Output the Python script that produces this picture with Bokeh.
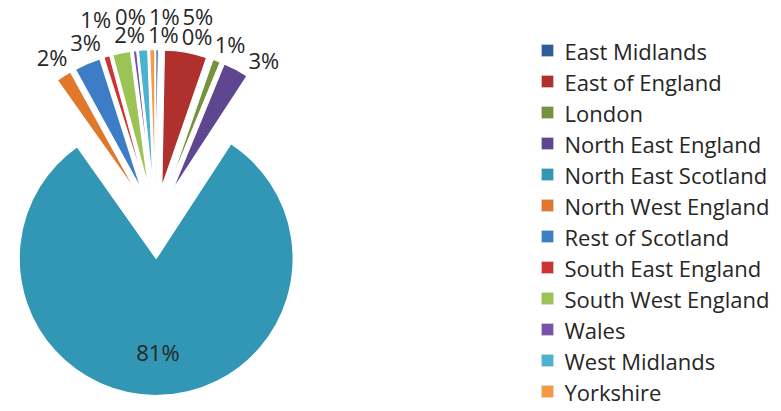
import numpy as np
from bokeh.plotting import figure
from bokeh.models import Range1d, ColumnDataSource
from bokeh.embed import file_html
from bokeh.resources import INLINE
from bokeh.core.properties import value

# ---------------- data ----------------
regions = ["East Midlands", "East of England", "London", "North East England",
           "North East Scotland", "North West England", "Rest of Scotland",
           "South East England", "South West England", "Wales", "West Midlands",
           "Yorkshire"]
shares = [0.3, 5.0, 0.9, 3.0, 81.0, 1.8, 3.1, 0.7, 2.1, 0.4, 1.1, 0.6]
colors = ["#2F5C9A", "#B0302E", "#76923C", "#5E4790", "#3197B5", "#E0772A",
          "#3D7DC8", "#CC3333", "#9BC455", "#7653AC", "#4CB2D2", "#F59A40"]

# ---------------- layout ----------------
W, H = 781, 411
CX, CY = 155, 189          # pie centre (data units == screen px)
R = 137
EXPLODE = 36
LFS = 22                   # data label font size
FONT = "Open Sans"

vals = np.array(shares, dtype=float)
frac = vals / vals.sum()
n = len(vals)
theta_end = np.cumsum(frac) * 2 * np.pi          # clockwise from 12 o'clock
theta_start = theta_end - frac * 2 * np.pi
theta_mid = (theta_start + theta_end) / 2

wx = CX + EXPLODE * np.sin(theta_mid)
wy = CY + EXPLODE * np.cos(theta_mid)

src = ColumnDataSource(dict(
    x=wx, y=wy,
    start=np.pi / 2 - theta_end,
    end=np.pi / 2 - theta_start,
    color=colors, region=regions,
))

p = figure(width=W, height=H, x_range=Range1d(0, W), y_range=Range1d(0, H),
           x_axis_type=None, y_axis_type=None, output_backend="svg",
           toolbar_location=None, min_border=0)
p.grid.visible = False
p.outline_line_color = None
p.background_fill_color = "white"
p.border_fill_color = "white"

p.wedge(x="x", y="y", radius=R, start_angle="start", end_angle="end",
        fill_color="color", line_color="white", line_width=1.2, source=src)

# ---------------- data labels ----------------
texts = [f"{int(round(v * 100))}%" for v in frac]
big = int(np.argmax(vals))


def box(t):
    return LFS * (0.57 * (len(t) - 1) + 0.84), LFS * 0.78


lab_x = np.zeros(n)
lab_y = np.zeros(n)
# inside label for the dominant slice
lab_x[big] = wx[big] + 0.68 * R * np.sin(theta_mid[big])
lab_y[big] = wy[big] + 0.68 * R * np.cos(theta_mid[big])

GAP, ROW, ROW_COST = 6.5, 20, 12
top_lim = H - 15
placed = []
order = [(big + k) % n for k in range(1, n)]
for i in order:
    w, h = box(texts[i])
    best = None
    for k in range(3):
        for dd in np.arange(-25, 25.01, 0.5):
            th = theta_mid[i] + np.radians(dd)
            Rl = (R + EXPLODE + GAP + (w / 2) * abs(np.sin(th))
                  + (h / 2) * abs(np.cos(th)) + k * ROW)
            x = CX + Rl * np.sin(th)
            y = min(CY + Rl * np.cos(th), top_lim)
            if x - w / 2 < 2 or x + w / 2 > 520:
                continue
            ok = all(abs(x - qx) >= (w + qw) / 2 + 2 or abs(y - qy) >= (h + qh) / 2
                     for (qx, qy, qw, qh) in placed)
            if not ok:
                continue
            cost = abs(np.radians(dd)) * Rl + k * ROW_COST
            if best is None or cost < best[0]:
                best = (cost, x, y)
    lab_x[i], lab_y[i] = best[1], best[2]
    placed.append((best[1], best[2], w, h))

p.text(x=lab_x, y=lab_y, text=texts, text_font=value(FONT),
       text_font_size=f"{LFS}px", text_color="#262626",
       text_align="center", text_baseline="middle")

# ---------------- legend ----------------
LEG_X, LEG_Y0, LEG_DY, SW = 547, 361, 31, 12
TEXT_X = 564
idx = np.arange(n)
leg_y = LEG_Y0 - idx * LEG_DY
p.rect(x=np.full(n, LEG_X), y=leg_y, width=SW, height=SW,
       fill_color=colors, line_color="#dddddd", line_width=0.5)
p.text(x=np.full(n, TEXT_X), y=leg_y, text=regions, text_font=value(FONT),
       text_font_size="22px", text_color="#262626",
       text_align="left", text_baseline="middle")

open("out.html", "w").write(file_html(p, INLINE))
